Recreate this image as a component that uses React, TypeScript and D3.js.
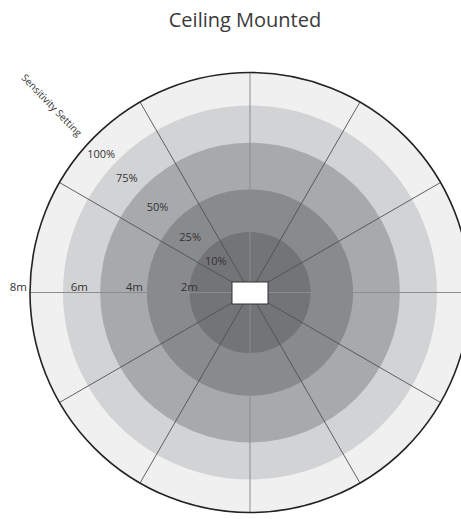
// Ceiling Mounted — sensitivity rings of a ceiling detector, seen from below.
// Concentric grey bands (10% → 100%), 12 spokes every 30°, distance ticks on the
// left horizontal spoke, white sensor block in the middle.
import * as d3 from "d3";

const TITLE = "Ceiling Mounted";
const AXIS_TITLE = "Sensitivity Setting";

// ring outer radius, in metres, innermost first
const sensitivityLabels = ["10%", "25%", "50%", "75%", "100%"];
const ringRadiusM = [2.2, 3.75, 5.45, 6.8, 8];
const ringFills = ["#737477", "#898a8d", "#a8a9ac", "#d2d3d5", "#f0f0f0"];
const LABEL_INNER_M = 1.2; // where the 10% band's label zone begins (sensor block)

const distanceTicks = [2, 4, 6, 8];
const spokeAnglesDeg = d3.range(0, 360, 30);

const W = 461;
const H = 519;
const cx = 250;
const cy = 292.5;
const font = "'Open Sans', 'Noto Sans', sans-serif";

export default function App() {
  const r = d3.scaleLinear().domain([0, 8]).range([0, 220]);
  const arc = d3.arc<number>().innerRadius(0).outerRadius((d) => r(d)).startAngle(0).endAngle(2 * Math.PI);

  const labelAngle = (43 * Math.PI) / 180;
  const along = (rad: number) => [-rad * Math.cos(labelAngle), -rad * Math.sin(labelAngle)];

  const ringsOuterFirst = ringRadiusM.map((m, i) => ({ m, fill: ringFills[i] })).reverse();
  const [tx, ty] = along(r(8) + 12);
  const maxTick = d3.max(distanceTicks) ?? 8;

  return (
    <div style={{ position: "absolute", left: 0, top: 0 }}>
      <svg width={W} height={H} viewBox={`0 0 ${W} ${H}`} style={{ display: "block" }}>
        <rect width={W} height={H} fill="#fff" />
        <text x={245} y={27} textAnchor="middle" fontFamily={font} fontSize={20} fill="#3a3a3a">
          {TITLE}
        </text>

        <g transform={`translate(${cx},${cy})`}>
          {ringsOuterFirst.map((d) => (
            <path key={d.m} d={arc(d.m) ?? ""} fill={d.fill} />
          ))}

          {spokeAnglesDeg.map((a) => {
            const t = (a * Math.PI) / 180;
            const axisLine = a % 90 === 0;
            return (
              <line
                key={a}
                x1={0}
                y1={0}
                x2={r(8) * Math.cos(t)}
                y2={r(8) * Math.sin(t)}
                stroke={axisLine ? "#8c8c8c" : "#505050"}
                strokeWidth={axisLine ? 1 : 0.9}
              />
            );
          })}

          <circle r={r(8)} fill="none" stroke="#222" strokeWidth={1.6} />

          <rect x={-18} y={-10.5} width={36} height={22} fill="#fff" stroke="#333" strokeWidth={1} />

          {/* distance ticks: text ends just past its radius; the rim label sits outside the circle */}
          {distanceTicks.map((d) => (
            <text
              key={d}
              x={-r(d) + (d === maxTick ? -3 : 3)}
              y={-2}
              textAnchor="end"
              fontFamily={font}
              fontSize={11.5}
              fill="#333"
            >
              {`${d}m`}
            </text>
          ))}

          {sensitivityLabels.map((lab, i) => {
            const inner = i === 0 ? LABEL_INNER_M : ringRadiusM[i - 1];
            const [lx, ly] = along(r((inner + ringRadiusM[i]) / 2));
            return (
              <text
                key={lab}
                x={lx}
                y={ly}
                textAnchor="middle"
                dominantBaseline="central"
                fontFamily={font}
                fontSize={11}
                fill="#333"
              >
                {lab}
              </text>
            );
          })}

          <text
            x={tx}
            y={ty}
            transform={`rotate(46 ${tx} ${ty})`}
            textAnchor="end"
            dominantBaseline="central"
            fontFamily={font}
            fontSize={10}
            fill="#333"
          >
            {AXIS_TITLE}
          </text>
        </g>
      </svg>
    </div>
  );
}
